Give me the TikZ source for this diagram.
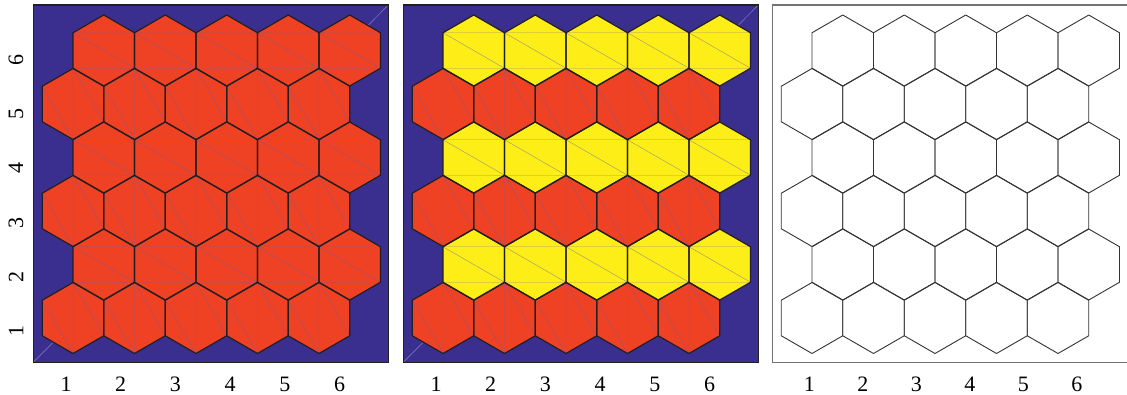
\documentclass[tikz,border=0pt]{standalone}
\usepackage{fontspec}
\setmainfont{Liberation Serif}
\definecolor{bgblue}{HTML}{3A2F8F}
\definecolor{hexred}{HTML}{EF4123}
\definecolor{hexyel}{HTML}{FDEE18}
\definecolor{edgedark}{HTML}{231F20}
\definecolor{meshc}{HTML}{6A5FA8}
\definecolor{diagc}{HTML}{8880C8}
\tikzset{
  hexa/.pic={\path[pic actions] (0,-35.5) -- (30.75,-17.75) -- (30.75,17.75) -- (0,35.5) -- (-30.75,17.75) -- (-30.75,-17.75) -- cycle;},
  meshodd/.pic={\draw[meshline] (0,-35.5) -- (0,35.5) (-30.75,-17.75) -- (0,35.5) (0,-35.5) -- (30.75,17.75);},
  mesheven/.pic={\draw[meshline] (-30.75,-17.75) -- (30.75,-17.75) (-30.75,-17.75) -- (30.75,17.75) (-30.75,17.75) -- (30.75,17.75);},
  meshline/.style={draw=meshc, line width=0.45pt, opacity=0.6},
  colframe/.style={draw=edgedark, line width=1.1pt},
  hexedge/.style={draw=edgedark, line width=1.2pt, line join=round},
  plainedge/.style={draw=black!80, line width=0.9pt, line join=round},
  whiteframe/.style={draw=black!55, line width=1.3pt},
  ticklab/.style={font=\fontsize{22}{24}\selectfont, inner sep=0pt},
}
\newcommand\hexloop[1]{%
  \foreach \r in {1,...,6}{%
    \foreach \k in {0,...,4}{%
      \ifodd\r \pgfmathsetmacro\cx{73+61.5*\k}\else\pgfmathsetmacro\cx{103.75+61.5*\k}\fi
      \pgfmathsetmacro\cy{318-(\r-1)*53.5}%
      #1%
    }%
  }%
}
\begin{document}
\begin{tikzpicture}[x=1pt,y=-1pt]
\useasboundingbox (0,0) rectangle (1127,394);
% ---------- panel 1 ----------
\begin{scope}
  \fill[bgblue] (33.3,5) rectangle (388.3,362.3);
  \draw[draw=diagc, line width=0.5pt] (33.3,362.3) -- (388.3,5);
  \hexloop{\pic[fill=hexred] at (\cx,\cy) {hexa};}
  \hexloop{\ifodd\r \pic at (\cx,\cy) {meshodd};\else \pic at (\cx,\cy) {mesheven};\fi}
  \hexloop{\pic[hexedge] at (\cx,\cy) {hexa};}
  \draw[colframe] (33.3,5) rectangle (388.3,362.3);
  \foreach \i in {1,...,6}{
    \node[ticklab] (xa\i) at ({66+54.7*(\i-1)},384) {\i};
    \node[ticklab, rotate=90] (ya\i) at (16,{331-54.2*(\i-1)}) {\i};
  }
\end{scope}
% ---------- panel 2 ----------
\begin{scope}[xshift=370pt]
  \fill[bgblue] (33.3,5) rectangle (388.3,362.3);
  \draw[draw=diagc, line width=0.5pt] (33.3,362.3) -- (388.3,5);
  \hexloop{\ifodd\r \pic[fill=hexred] at (\cx,\cy) {hexa};\else \pic[fill=hexyel] at (\cx,\cy) {hexa};\fi}
  \hexloop{\ifodd\r \pic at (\cx,\cy) {meshodd};\else \pic at (\cx,\cy) {mesheven};\fi}
  \hexloop{\pic[hexedge] at (\cx,\cy) {hexa};}
  \draw[colframe] (33.3,5) rectangle (388.3,362.3);
  \foreach \i in {1,...,6}{
    \node[ticklab] (xb\i) at ({66+54.7*(\i-1)},384) {\i};
  }
\end{scope}
% ---------- panel 3 ----------
\begin{scope}[xshift=739pt]
  \hexloop{\pic[plainedge] at (\cx,\cy) {hexa};}
  \draw[whiteframe] (400,5) -- (33.3,5) -- (33.3,362.5) -- (400,362.5);
  \foreach \i in {1,...,6}{
    \node[ticklab] (xc\i) at ({70.3+53.5*(\i-1)},384) {\i};
  }
\end{scope}
\end{tikzpicture}
\end{document}
